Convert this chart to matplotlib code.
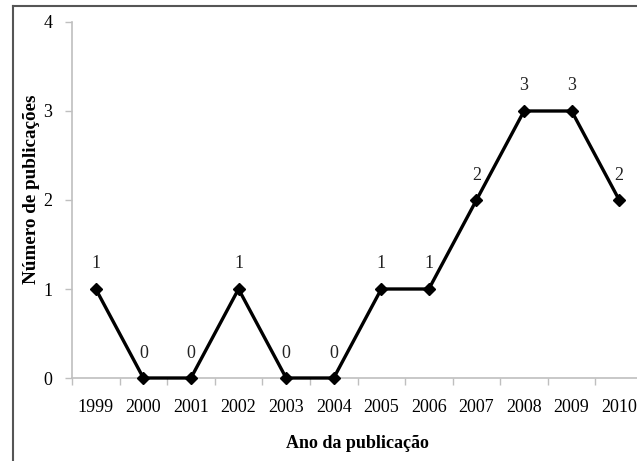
import matplotlib.pyplot as plt
from matplotlib.lines import Line2D

# data
anos = ['1999', '2000', '2001', '2002', '2003', '2004',
        '2005', '2006', '2007', '2008', '2009', '2010']
publicacoes = [1, 0, 0, 1, 0, 0, 1, 1, 2, 3, 3, 2]
y_ticks = [0, 1, 2, 3, 4]

plt.rcParams['font.family'] = ['Liberation Serif', 'DejaVu Serif']

W, H = 637, 461
fig = plt.figure(figsize=(W / 100, H / 100), dpi=100)
fig.patch.set_facecolor('white')

# axes runs a bit off the right edge, like the cropped original
left, right = 72, 643
bottom, top = 378, 22
ax = fig.add_axes([left / W, (H - bottom) / H, (right - left) / W, (bottom - top) / H])

x = list(range(len(anos)))
ax.plot(x, publicacoes, color='black', linewidth=2.4, marker='D',
        markersize=6.5, markerfacecolor='black', markeredgecolor='black',
        clip_on=False, zorder=5)

for xi, v in zip(x, publicacoes):
    ax.annotate(str(v), (xi, v), xytext=(0, 18), textcoords='offset points',
                ha='center', va='center', fontsize=13, color='#222222')

ax.set_xlim(-0.5, len(anos) - 0.5)
ax.set_ylim(0, 4)
ax.set_yticks(y_ticks)
ax.set_xticks(x)
ax.set_xticklabels(anos)
# tick marks sit between categories
ax.set_xticks([i - 0.5 for i in range(len(anos) + 1)], minor=True)
ax.tick_params(axis='x', which='major', length=0, pad=15, labelsize=13)
ax.tick_params(axis='x', which='minor', length=5, width=1, color='#bfbfbf', direction='out')
ax.tick_params(axis='y', length=5, width=1, color='#bfbfbf', direction='out',
               pad=9, labelsize=13)

for s in ['top', 'right']:
    ax.spines[s].set_visible(False)
for s in ['left', 'bottom']:
    ax.spines[s].set_color('#bfbfbf')
    ax.spines[s].set_linewidth(1.2)

fig.text(357 / W, 1 - 443 / H, 'Ano da publicação', ha='center', va='center',
         fontsize=13, fontweight='bold')
fig.text(32 / W, 1 - 189 / H, 'Número de publicações', ha='center', va='center',
         rotation=90, fontsize=13.8, fontweight='bold')

# frame around the chart (only left and top show in the crop)
fig.add_artist(Line2D([13 / W, 13 / W], [0, 1 - 6 / H], color='#555555', linewidth=1.5))
fig.add_artist(Line2D([13 / W, 1], [1 - 6 / H, 1 - 6 / H], color='#555555', linewidth=1.5))

fig.savefig('out.png', dpi=100)
